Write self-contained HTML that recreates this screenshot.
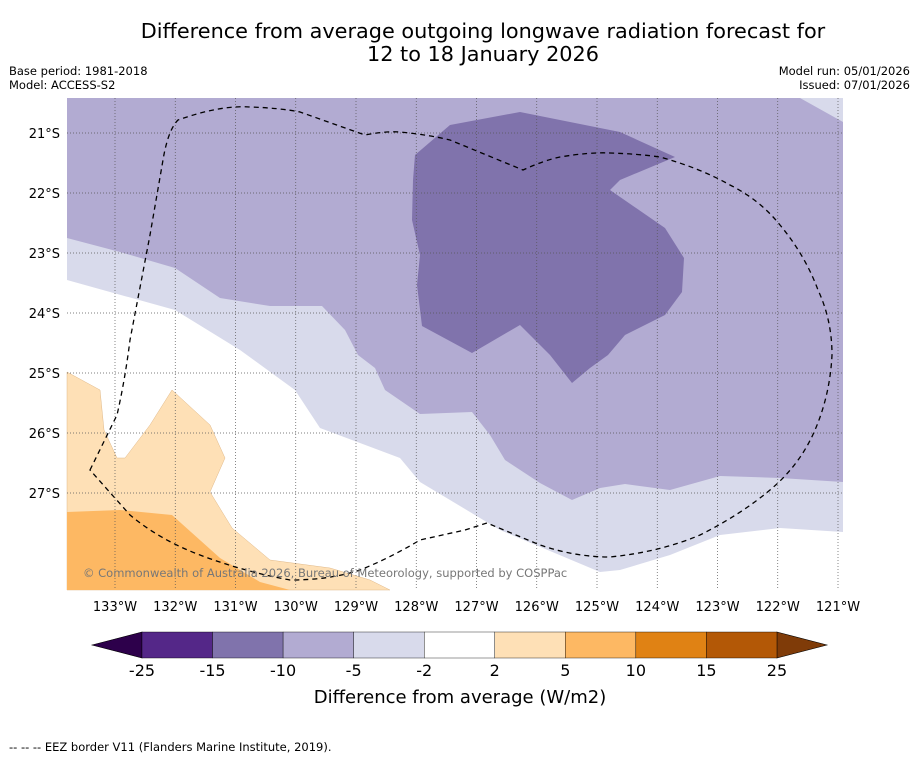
<!DOCTYPE html>
<html><head><meta charset="utf-8"><style>
body{margin:0;background:#fff;width:919px;height:758px;overflow:hidden;font-family:"DejaVu Sans","Liberation Sans",sans-serif}
svg text{font-family:"DejaVu Sans","Liberation Sans",sans-serif}
</style></head><body>
<svg id="chart" width="919" height="758" xmlns="http://www.w3.org/2000/svg">
<text x="483" y="38" font-size="20.8" text-anchor="middle">Difference from average outgoing longwave radiation forecast for</text>
<text x="483" y="61" font-size="20.8" text-anchor="middle">12 to 18 January 2026</text>
<text x="9" y="75" font-size="11.5">Base period: 1981-2018</text>
<text x="9" y="89" font-size="11.5">Model: ACCESS-S2</text>
<text x="910" y="75" font-size="11.5" text-anchor="end">Model run: 05/01/2026</text>
<text x="910" y="89" font-size="11.5" text-anchor="end">Issued: 07/01/2026</text>
<g>
<rect x="67" y="98" width="776" height="492" fill="#fff"/>
<path fill="#d8daeb" d="M67,98 L843,98 L843,532 L780,528 L720,535 L670,555 L620,570 L600,572 L500,530 L420,482 L400,458 L320,428 L295,390 L240,350 L175,310 L67,280 Z"/>
<path fill="#b2abd2" d="M67,98 L800,98 L843,122 L843,482 L780,478 L720,476 L670,490 L625,484 L600,488 L572,500 L540,483 L505,460 L490,435 L472,412 L420,414 L385,390 L375,368 L358,355 L345,330 L322,306 L270,306 L220,298 L175,268 L120,252 L67,238 Z"/>
<path fill="#8073ac" d="M415,155 L450,125 L520,112 L620,132 L675,157 L620,180 L610,190 L665,228 L684,258 L682,292 L665,315 L625,335 L608,355 L590,368 L572,383 L550,355 L520,325 L472,353 L422,326 L417,285 L420,255 L412,220 L413,180 Z"/>
<path fill="#fee0b6" stroke="#e0b888" stroke-width="0.5" d="M67,372 L100,390 L104,430 L117,458 L125,458 L150,425 L172,390 L210,425 L225,458 L210,492 L232,528 L270,560 L330,568 L370,580 L390,590 L67,590 Z"/>
<path fill="#fdb863" d="M67,512 L120,510 L172,515 L220,558 L260,582 L290,590 L67,590 Z"/>
<g id="grid" stroke="#555" stroke-width="0.7" stroke-dasharray="1,2"></g>
<path fill="none" stroke="#000" stroke-width="1.3" stroke-dasharray="5,4" d="M90,470 L117,415 Q125,380 130,340 L150,235 L163,160 Q168,130 178,120 Q220,105 250,107 Q280,108 300,112 L365,135 Q385,131 400,132 Q430,135 450,140 L523,170 Q545,160 560,157 Q590,152 610,153 Q640,154 660,157 Q700,168 730,185 Q760,200 780,225 Q805,255 818,290 Q832,320 832,355 Q830,395 815,430 Q800,465 770,490 Q740,515 700,535 Q660,552 610,557 Q575,557 540,545 L487,523 L465,530 L420,540 Q390,558 360,570 Q330,580 290,580 Q245,572 200,555 Q160,540 130,515 Z"/>
<text x="83" y="577" font-size="11.5" fill="#777">© Commonwealth of Australia 2026, Bureau of Meteorology, supported by COSPPac</text>
</g>
<g id="axes"></g>
<g id="cbar"></g>
<text x="460" y="703" font-size="18" text-anchor="middle">Difference from average (W/m2)</text>
<text x="9" y="751" font-size="11.5">-- -- -- EEZ border V11 (Flanders Marine Institute, 2019).</text>
</svg>
<script>
const lonTicks=[133,132,131,130,129,128,127,126,125,124,123,122,121];
const latTicks=[21,22,23,24,25,26,27];
const levels=[-25,-15,-10,-5,-2,2,5,10,15,25];
const colors=["#542788","#8073ac","#b2abd2","#d8daeb","#ffffff","#fee0b6","#fdb863","#e08214","#b35806"];
const NS="http://www.w3.org/2000/svg";
const xLon=l=>115+(133-l)*60.25;
const yLat=l=>133+(l-21)*60;
function mk(tag,attrs,parent){const e=document.createElementNS(NS,tag);for(const k in attrs)e.setAttribute(k,attrs[k]);parent.appendChild(e);return e;}
const grid=document.getElementById('grid'),axes=document.getElementById('axes'),cbar=document.getElementById('cbar');
lonTicks.forEach(l=>{const x=xLon(l);
 const ln=mk('line',{x1:x,x2:x,y1:98,y2:590},grid);
 
 
 const t=mk('text',{x:x,y:611,'font-size':13,'text-anchor':'middle'},axes);t.textContent=l+'°W';
 
 });
latTicks.forEach(l=>{const y=yLat(l);
 const ln=mk('line',{x1:67,x2:843,y1:y,y2:y},grid);
 
 
 const t=mk('text',{x:60,y:y+5,'font-size':13,'text-anchor':'end'},axes);t.textContent=l+'°S';
 
 });
const cx0=142,cw=70.55,cy=632,ch=26,n=colors.length;
const cxi=i=>cx0+i*cw;
const lt=mk('polygon',{points:`92,${cy+ch/2} ${cx0},${cy} ${cx0},${cy+ch}`,fill:'#2d004b',stroke:'#000','stroke-width':0.6},cbar);


const rt=mk('polygon',{points:`${cxi(n)},${cy} ${cxi(n)+50},${cy+ch/2} ${cxi(n)},${cy+ch}`,fill:'#7f3b08',stroke:'#000','stroke-width':0.6},cbar);


colors.forEach((c,i)=>{const r=mk('rect',{x:cxi(i),y:cy,width:cw,height:ch,fill:c,stroke:'#000','stroke-width':0.4},cbar);
 
 });
levels.forEach((v,i)=>{const t=mk('text',{x:cxi(i),y:676,'font-size':16,'text-anchor':'middle'},cbar);t.textContent=v;
 
 });
</script>
</body></html>
